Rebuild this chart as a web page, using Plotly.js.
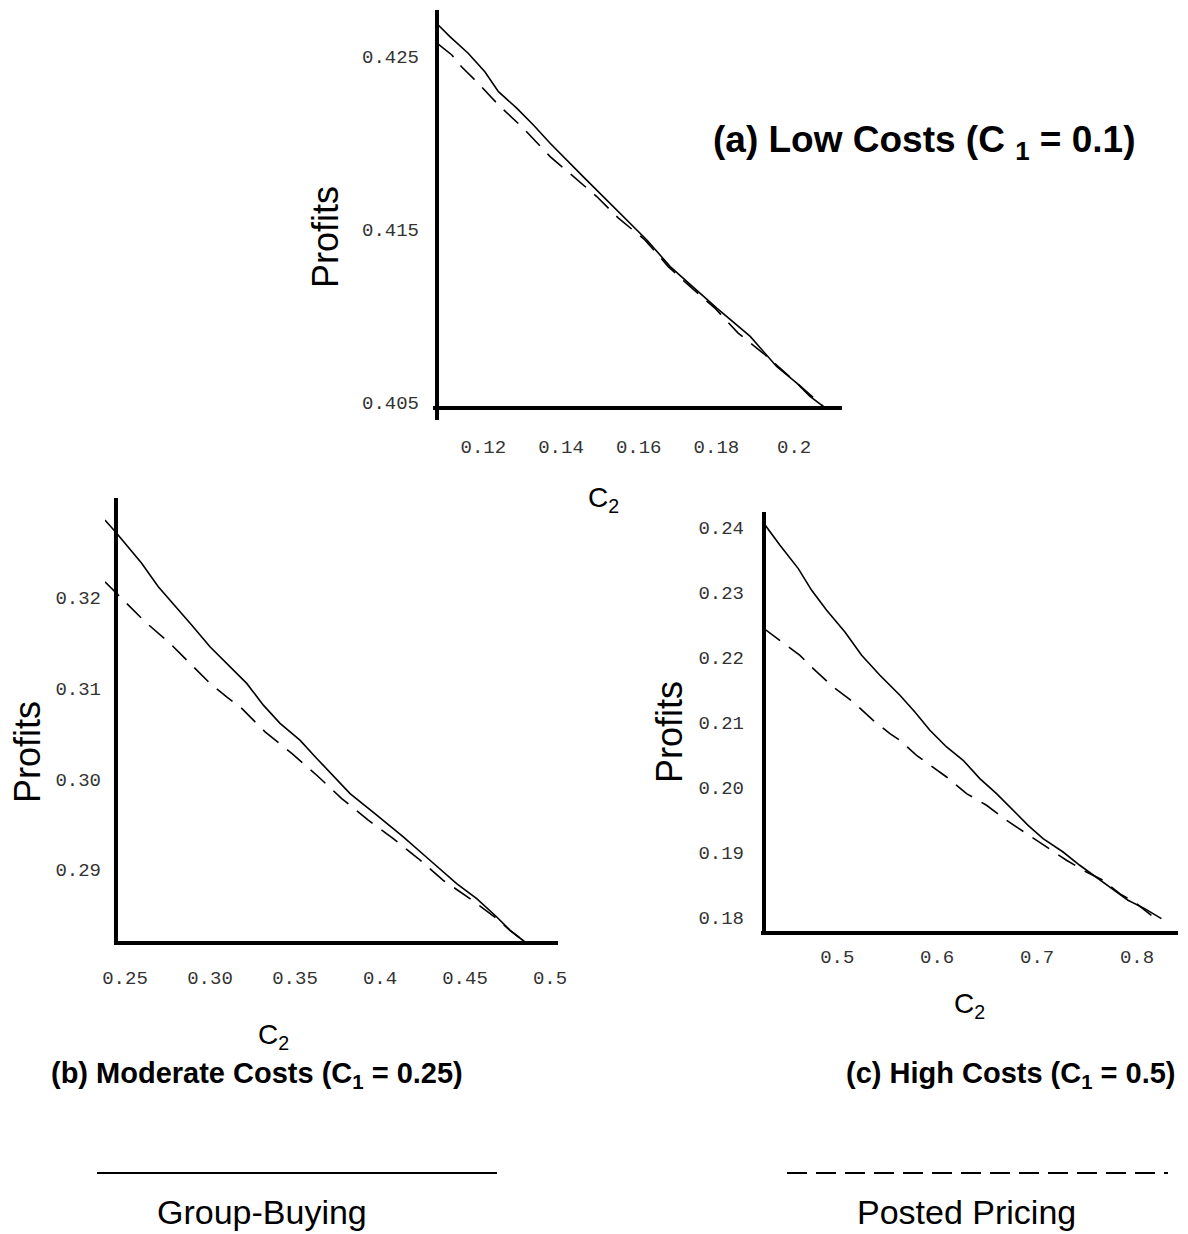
<!DOCTYPE html>
<html>
<head>
<meta charset="utf-8">
<script src="https://cdn.plot.ly/plotly-3.0.1.min.js"></script>
<style>
html,body{margin:0;padding:0;background:#ffffff;}
#chart{width:1188px;height:1234px;}
</style>
</head>
<body>
<div id="chart"></div>
<script>
// ---------- data ----------
const seriesNames = ['Group-Buying', 'Posted Pricing'];
const panelTitles = [
  '<b>(a) Low Costs (C <sub>1</sub> = 0.1)</b>',
  '<b>(b) Moderate Costs (C<sub>1</sub> = 0.25)</b>',
  '<b>(c) High Costs (C<sub>1</sub> = 0.5)</b>'
];
const yTitle = 'Profits';
const xTitle = 'C<sub>2</sub>';

// Panel (a) Low costs, C1 = 0.1
const aGroupX  = [0.1084,0.1114,0.1161,0.1204,0.1239,0.1286,0.1329,0.1372,0.1457,0.1509,0.1569,0.1621,0.1681,0.1749,0.1801,0.1887,0.1955,0.2007,0.2041,0.2075];
const aGroupY  = [0.42683,0.42616,0.4252,0.42413,0.42298,0.42202,0.42105,0.41999,0.41806,0.41691,0.41556,0.4144,0.41286,0.41151,0.41046,0.40882,0.40708,0.40612,0.40535,0.40477];
const aPostedX = [0.1084,0.1119,0.1144,0.1183,0.1239,0.1303,0.1372,0.1423,0.1492,0.1548,0.1616,0.1676,0.1732,0.1796,0.1856,0.1925,0.2007,0.2075];
const aPostedY = [0.42573,0.4251,0.42442,0.42355,0.42221,0.42086,0.41922,0.41826,0.41691,0.41566,0.4144,0.41286,0.41171,0.41046,0.40901,0.40776,0.40612,0.40477];
const aXTicks = [0.12,0.14,0.16,0.18,0.2];
const aXTickText = ['0.12','0.14','0.16','0.18','0.2'];
const aYTicks = [0.405,0.415,0.425];
const aYTickText = ['0.405','0.415','0.425'];

// Panel (b) Moderate costs, C1 = 0.25
const bGroupX  = [0.2382,0.2451,0.2598,0.2696,0.2892,0.3,0.3216,0.3314,0.3412,0.3529,0.3628,0.3824,0.3981,0.4137,0.4294,0.4451,0.4569,0.4687,0.4765,0.4853];
const bGroupY  = [0.32855,0.32708,0.32377,0.32119,0.31697,0.31457,0.31054,0.30814,0.30613,0.30428,0.30227,0.2984,0.29601,0.29362,0.29105,0.28848,0.28682,0.2848,0.28333,0.28204];
const bPostedX = [0.2382,0.2471,0.2618,0.2765,0.2902,0.3,0.3098,0.3187,0.3245,0.3324,0.3481,0.3628,0.3775,0.3931,0.4078,0.4225,0.4372,0.4529,0.4687,0.4765,0.4853];
const bPostedY = [0.32174,0.32009,0.31733,0.31495,0.31237,0.31054,0.30906,0.30778,0.30668,0.3052,0.30282,0.30042,0.29785,0.29546,0.29344,0.29124,0.28884,0.28682,0.28462,0.28333,0.28204];
const bXTicks = [0.25,0.30,0.35,0.4,0.45,0.5];
const bXTickText = ['0.25','0.30','0.35','0.4','0.45','0.5'];
const bYTicks = [0.29,0.30,0.31,0.32];
const bYTickText = ['0.29','0.30','0.31','0.32'];

// Panel (c) High costs, C1 = 0.5
const cGroupX  = [0.4267,0.4427,0.461,0.4744,0.4894,0.5077,0.5244,0.5427,0.5627,0.5777,0.5927,0.6094,0.626,0.6427,0.6594,0.676,0.691,0.706,0.726,0.7427,0.761,0.776,0.791,0.8077,0.8244];
const cGroupY  = [0.24062,0.23728,0.23369,0.23035,0.22728,0.22394,0.22035,0.21728,0.2142,0.21163,0.20882,0.20625,0.2042,0.20138,0.19908,0.19651,0.1942,0.19215,0.19009,0.18805,0.186,0.1842,0.18266,0.18138,0.17985];
const cPostedX = [0.4267,0.4427,0.4627,0.476,0.496,0.516,0.536,0.5527,0.5627,0.5794,0.596,0.6094,0.6294,0.6494,0.6694,0.6894,0.7094,0.7294,0.7494,0.766,0.7827,0.7994,0.8144];
const cPostedY = [0.22446,0.22266,0.22035,0.21831,0.21548,0.21317,0.21035,0.20831,0.20728,0.20497,0.20317,0.20163,0.19908,0.19728,0.19497,0.19292,0.19086,0.18882,0.18702,0.18574,0.18369,0.18215,0.18035];
const cXTicks = [0.5,0.6,0.7,0.8];
const cXTickText = ['0.5','0.6','0.7','0.8'];
const cYTicks = [0.18,0.19,0.20,0.21,0.22,0.23,0.24];
const cYTickText = ['0.18','0.19','0.20','0.21','0.22','0.23','0.24'];

// ---------- layout geometry ----------
const W = 1188, H = 1234;
const boxes = {
  a: {l:437, r:842, t:10, b:408, xr:[0.10808,0.21233], yr:[0.40468,0.42770], origin:0.10808},
  b: {l:105, r:558, t:498, b:943, xr:[0.23824,0.50471], yr:[0.28193,0.33097], origin:0.2447},
  c: {l:764, r:1178, t:512, b:933, xr:[0.4267,0.841],  yr:[0.17763,0.2424],  origin:0.4267}
};
const tickFont = {family:'"Liberation Mono", "Courier New", monospace', size:19, color:'#333333'};
const solidLine = {color:'#000000', width:1.6};
const dashLine  = {color:'#000000', width:1.6, dash:'20px,11px'};

function xd(bx){return [bx.l/W, bx.r/W];}
function yd(bx){return [1-bx.b/H, 1-bx.t/H];}

function xAxis(bx, tv, tt, standoff, anchor){
  return {domain:xd(bx), range:bx.xr, anchor:anchor, tickmode:'array', tickvals:tv, ticktext:tt,
    showgrid:false, zeroline:false, showline:false, ticks:'', tickfont:tickFont,
    ticklabelstandoff:standoff, fixedrange:true};
}
function yAxis(bx, tv, tt, standoff, anchor){
  return {domain:yd(bx), range:bx.yr, anchor:anchor, tickmode:'array', tickvals:tv, ticktext:tt,
    showgrid:false, zeroline:false, showline:false, ticks:'', tickfont:tickFont,
    ticklabelstandoff:standoff, fixedrange:true};
}

const traces = [
  {x:aGroupX, y:aGroupY, xaxis:'x', yaxis:'y', mode:'lines', name:seriesNames[0], line:solidLine},
  {x:aPostedX, y:aPostedY, xaxis:'x', yaxis:'y', mode:'lines', name:seriesNames[1], line:dashLine},
  {x:bGroupX, y:bGroupY, xaxis:'x2', yaxis:'y2', mode:'lines', name:seriesNames[0], line:solidLine},
  {x:bPostedX, y:bPostedY, xaxis:'x2', yaxis:'y2', mode:'lines', name:seriesNames[1], line:dashLine},
  {x:cGroupX, y:cGroupY, xaxis:'x3', yaxis:'y3', mode:'lines', name:seriesNames[0], line:solidLine},
  {x:cPostedX, y:cPostedY, xaxis:'x3', yaxis:'y3', mode:'lines', name:seriesNames[1], line:dashLine}
];

// axis lines (Mathematica-style crossing axes)
function axisShapes(bx, xn, yn, extDown, extLeft){
  const f = (bx.origin - bx.xr[0])/(bx.xr[1]-bx.xr[0]);
  const hpx = bx.b - bx.t, wpx = bx.r - bx.l;
  return [
    {type:'line', xref:xn+' domain', yref:yn+' domain', x0:f, x1:f, y0:-extDown/hpx, y1:1, line:{color:'#000', width:4}},
    {type:'line', xref:xn+' domain', yref:yn+' domain', x0:f - extLeft/wpx, x1:1, y0:0, y1:0, line:{color:'#000', width:4}}
  ];
}
const shapes = [].concat(
  axisShapes(boxes.a,'x','y',12,4),
  axisShapes(boxes.b,'x2','y2',0,2),
  axisShapes(boxes.c,'x3','y3',0,3),
  // legend samples
  [{type:'line', xref:'paper', yref:'paper', x0:97/W, x1:497/W, y0:1-1173/H, y1:1-1173/H, line:{color:'#000', width:2}},
   {type:'line', xref:'paper', yref:'paper', x0:787/W, x1:1168/W, y0:1-1173/H, y1:1-1173/H, line:{color:'#000', width:2, dash:'20px,9px'}}]
);

function ann(text, px, py, size, extra){
  return Object.assign({text:text, xref:'paper', yref:'paper', x:px/W, y:1-py/H,
    xanchor:'center', yanchor:'middle', showarrow:false,
    font:{family:'"Liberation Sans", Arial, sans-serif', size:size, color:'#000'}}, extra||{});
}
const annotations = [
  ann(panelTitles[0], 924, 142, 37),
  ann(panelTitles[1], 257, 1075, 29),
  ann(panelTitles[2], 1011, 1075, 29),
  ann(yTitle, 325, 237, 36, {textangle:-90}),
  ann(yTitle, 27, 752, 36, {textangle:-90}),
  ann(yTitle, 670, 732, 36, {textangle:-90}),
  ann(xTitle, 603, 500, 28),
  ann(xTitle, 273, 1036, 28),
  ann(xTitle, 969, 1005, 28),
  ann(seriesNames[0], 262, 1212, 34),
  ann(seriesNames[1], 966, 1212, 34)
];

const layout = {
  width:W, height:H, margin:{l:0,r:0,t:0,b:0},
  paper_bgcolor:'#ffffff', plot_bgcolor:'rgba(0,0,0,0)',
  showlegend:false,
  xaxis: xAxis(boxes.a, aXTicks, aXTickText, 25, 'y'),
  yaxis: yAxis(boxes.a, aYTicks, aYTickText, 17, 'x'),
  xaxis2: xAxis(boxes.b, bXTicks, bXTickText, 21, 'y2'),
  yaxis2: yAxis(boxes.b, bYTicks, bYTickText, 3, 'x2'),
  xaxis3: xAxis(boxes.c, cXTicks, cXTickText, 10, 'y3'),
  yaxis3: yAxis(boxes.c, cYTicks, cYTickText, 19, 'x3'),
  shapes: shapes,
  annotations: annotations
};

Plotly.newPlot('chart', traces, layout, {displayModeBar:false, staticPlot:true});
</script>
</body>
</html>
